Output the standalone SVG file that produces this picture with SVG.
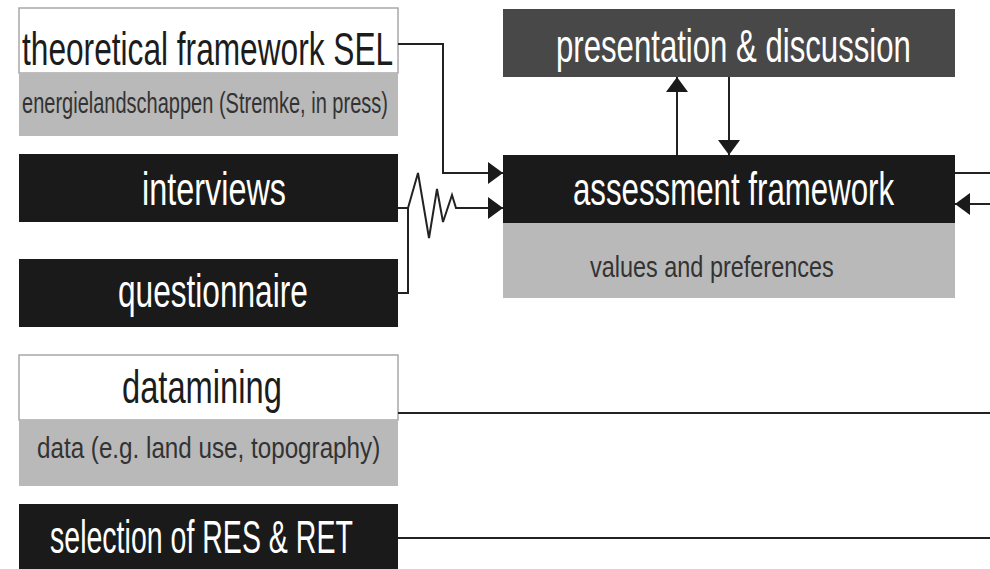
<svg xmlns="http://www.w3.org/2000/svg" width="990" height="569" viewBox="0 0 990 569">
  <defs>
    <style>
      .title { font-family: "Liberation Sans Narrow", "Liberation Sans", Arial, sans-serif; font-size: 46px; }
      .sub { font-family: "Liberation Sans Narrow", "Liberation Sans", Arial, sans-serif; font-size: 30px; fill: #333333; }
      .light { fill: #ffffff; }
      .dark { fill: #1c1c1c; }
      .box-black { fill: #1a1a1a; }
      .box-mid { fill: #484848; }
      .box-white { fill: #ffffff; stroke: #a8a8a8; stroke-width: 1.5; }
      .band { fill: #b9b9b9; }
      .wire { fill: none; stroke: #222222; stroke-width: 2; stroke-linejoin: miter; }
    </style>
    <marker id="arrow" viewBox="0 0 15 22" refX="15" refY="11" markerWidth="15" markerHeight="22" markerUnits="userSpaceOnUse" orient="auto">
      <path d="M0,0 L15,11 L0,22 Z" fill="#1a1a1a"/>
    </marker>
  </defs>
  <rect width="990" height="569" fill="#ffffff"/>

  <!-- left column; labels are set in a condensed face (horizontal scale 0.65) -->
  <g id="theoretical-framework">
    <rect class="box-white" x="19" y="8" width="379" height="65"/>
    <rect class="band" x="19" y="73" width="379" height="63"/>
    <text class="title dark" transform="translate(22 65) scale(0.65 1)" textLength="571" lengthAdjust="spacingAndGlyphs">theoretical framework SEL</text>
    <text class="sub" transform="translate(22 113) scale(0.65 1)" textLength="563" lengthAdjust="spacingAndGlyphs">energielandschappen (Stremke, in press)</text>
  </g>

  <g id="interviews">
    <rect class="box-black" x="19" y="154" width="379" height="68"/>
    <text class="title light" transform="translate(142 205) scale(0.65 1)" textLength="221.5" lengthAdjust="spacingAndGlyphs">interviews</text>
  </g>

  <g id="questionnaire">
    <rect class="box-black" x="19" y="259" width="379" height="68"/>
    <text class="title light" transform="translate(118 307) scale(0.65 1)" textLength="292" lengthAdjust="spacingAndGlyphs">questionnaire</text>
  </g>

  <g id="datamining">
    <rect class="box-white" x="19" y="355" width="379" height="65"/>
    <rect class="band" x="19" y="420" width="379" height="66"/>
    <text class="title dark" transform="translate(122 403) scale(0.65 1)" textLength="246" lengthAdjust="spacingAndGlyphs">datamining</text>
    <text class="sub" transform="translate(37 458) scale(0.65 1)" textLength="528" lengthAdjust="spacingAndGlyphs">data (e.g. land use, topography)</text>
  </g>

  <g id="selection-res-ret">
    <rect class="box-black" x="19" y="504" width="379" height="70"/>
    <text class="title light" transform="translate(50 553) scale(0.65 1)" textLength="466" lengthAdjust="spacingAndGlyphs">selection of RES &amp; RET</text>
  </g>

  <!-- centre column -->
  <g id="presentation-discussion">
    <rect class="box-mid" x="503" y="9" width="452" height="68"/>
    <text class="title light" transform="translate(556 62) scale(0.65 1)" textLength="546" lengthAdjust="spacingAndGlyphs">presentation &amp; discussion</text>
  </g>

  <g id="assessment-framework">
    <rect class="box-black" x="503" y="155" width="452" height="68"/>
    <rect class="band" x="503" y="223" width="452" height="75"/>
    <text class="title light" transform="translate(573 205) scale(0.65 1)" textLength="494" lengthAdjust="spacingAndGlyphs">assessment framework</text>
    <text class="sub" transform="translate(590 277) scale(0.65 1)" textLength="375" lengthAdjust="spacingAndGlyphs">values and preferences</text>
  </g>

  <!-- connectors -->
  <g id="connectors">
    <path class="wire" d="M398,44 H443 V173 H503" marker-end="url(#arrow)"/>
    <path class="wire" d="M398,208 H408 L418,173 L429,238 L437,189 L443,222 L452,195 L456,208 H503" marker-end="url(#arrow)"/>
    <path class="wire" d="M398,293 H408 V208"/>
    <path class="wire" d="M677,155 V77" marker-end="url(#arrow)"/>
    <path class="wire" d="M729,77 V155" marker-end="url(#arrow)"/>
    <path class="wire" d="M955,173 H990"/>
    <path class="wire" d="M990,204 H955" marker-end="url(#arrow)"/>
    <path class="wire" d="M398,413 H990"/>
    <path class="wire" d="M398,538 H990"/>
  </g>
</svg>
